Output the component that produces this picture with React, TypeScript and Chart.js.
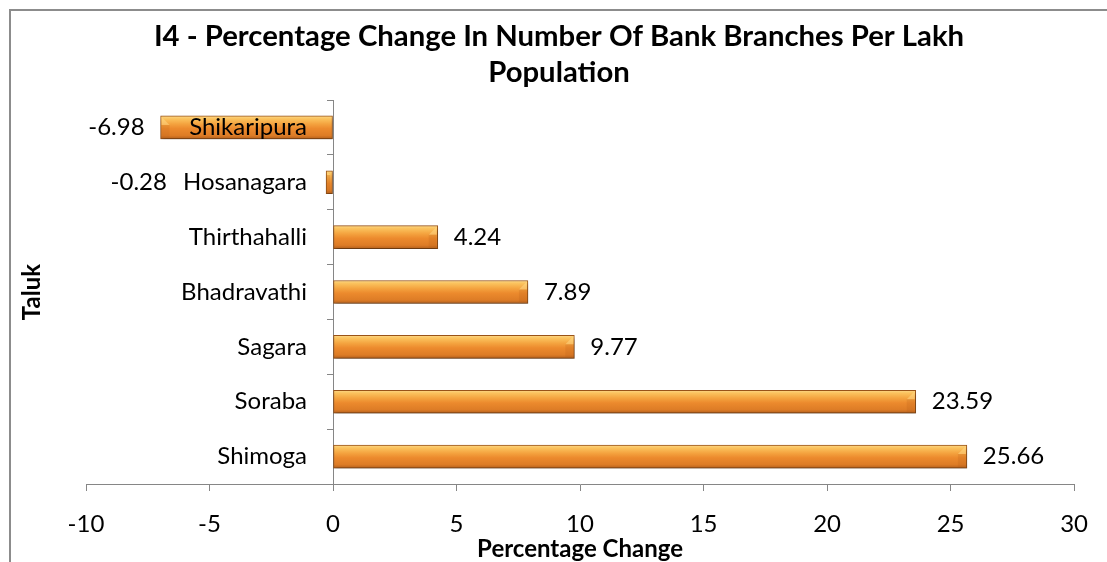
import React, { useEffect, useRef } from "react";
import { Chart, registerables } from "chart.js";

Chart.register(...registerables);

const titleLines = ["I4 - Percentage Change In Number Of Bank Branches Per Lakh", "Population"];
const taluks = ["Shikaripura", "Hosanagara", "Thirthahalli", "Bhadravathi", "Sagara", "Soraba", "Shimoga"];
const changes = [-6.98, -0.28, 4.24, 7.89, 9.77, 23.59, 25.66];
const xMin = -10;
const xMax = 30;
const xStep = 5;
const xTitle = "Percentage Change";
const yTitle = "Taluk";

const FONT = "Lato, 'Open Sans', sans-serif";
const TXT = 24;
const LABEL_GAP = 26;
const TICK_LEN = 6;
const BAR_H = 23;

export default function App() {
  const ref = useRef<HTMLCanvasElement | null>(null);

  useEffect(() => {
    const canvas = ref.current;
    if (!canvas) return;

    const barFill = (c: any) => {
      const chart = c.chart;
      if (!chart.chartArea || !chart.scales.y) return "#ee8d2e";
      const yc = chart.scales.y.getPixelForValue(c.dataIndex);
      const g = chart.ctx.createLinearGradient(0, yc - BAR_H / 2, 0, yc + BAR_H / 2);
      g.addColorStop(0, "#fcd88a");
      g.addColorStop(0.12, "#fbc35e");
      g.addColorStop(0.35, "#f4a33f");
      g.addColorStop(0.55, "#ec8a2d");
      g.addColorStop(0.85, "#dd7c26");
      g.addColorStop(1, "#b4601d");
      return g;
    };

    const shadowPlugin = {
      id: "barShadow",
      beforeDatasetsDraw(chart: any) {
        const ctx = chart.ctx;
        ctx.save();
        ctx.shadowColor = "rgba(0,0,0,0.35)";
        ctx.shadowBlur = 4;
        ctx.shadowOffsetX = 1;
        ctx.shadowOffsetY = 3;
      },
      afterDatasetsDraw(chart: any) {
        chart.ctx.restore();
      },
    };

    const decoPlugin = {
      id: "decoAndLabels",
      afterDatasetsDraw(chart: any) {
        const ctx = chart.ctx;
        const meta = chart.getDatasetMeta(0);
        const xs = chart.scales.x;
        const ys = chart.scales.y;
        const zero = xs.getPixelForValue(0);
        ctx.save();
        // end bevels
        meta.data.forEach((bar: any, i: number) => {
          const v = changes[i];
          const top = bar.y - bar.height / 2 + 1;
          const bot = bar.y + bar.height / 2 - 1;
          const b = Math.min(8, Math.abs(bar.x - bar.base) / 2);
          const endX = bar.x + (v >= 0 ? -1 : 1);
          const dir = v >= 0 ? -1 : 1;
          ctx.beginPath();
          ctx.moveTo(endX, top);
          ctx.lineTo(endX + dir * b, top + b);
          ctx.lineTo(endX, top + b);
          ctx.closePath();
          ctx.fillStyle = "rgba(255,220,140,0.5)";
          ctx.fill();
          ctx.beginPath();
          ctx.moveTo(endX + dir * b, top + b);
          ctx.lineTo(endX, top + b);
          ctx.lineTo(endX, bot);
          ctx.lineTo(endX + dir * b, bot);
          ctx.closePath();
          ctx.fillStyle = "rgba(175,90,20,0.18)";
          ctx.fill();
        });
        // category labels next to the zero axis
        ctx.font = `${TXT}px ${FONT}`;
        ctx.fillStyle = "#000";
        ctx.textBaseline = "middle";
        ctx.textAlign = "right";
        taluks.forEach((_, i) => {
          ctx.fillText(ys.getLabelForValue(i), zero - LABEL_GAP, ys.getPixelForValue(i));
        });
        // value labels
        meta.data.forEach((bar: any, i: number) => {
          const v = changes[i];
          const txt = v.toFixed(2);
          if (v >= 0) {
            ctx.textAlign = "left";
            ctx.fillText(txt, Math.max(bar.x, bar.base) + 16, bar.y);
          } else {
            const catW = ctx.measureText(taluks[i]).width;
            const catLeft = zero - LABEL_GAP - catW;
            const left = Math.min(bar.x, catLeft);
            ctx.textAlign = "right";
            ctx.fillText(txt, left - 16, bar.y);
          }
        });
        // chart title centred on the whole canvas
        ctx.font = `bold 29.3px ${FONT}`;
        ctx.textAlign = "center";
        titleLines.forEach((line, i) => {
          ctx.fillText(line, chart.width / 2, 26 + i * 36);
        });
        // y axis title
        const area = chart.chartArea;
        ctx.font = `bold ${TXT}px ${FONT}`;
        ctx.translate(21, (area.top + area.bottom) / 2);
        ctx.rotate(-Math.PI / 2);
        ctx.textAlign = "center";
        ctx.textBaseline = "middle";
        ctx.fillText(yTitle, 0, 0);
        ctx.restore();
      },
    };

    const chart = new Chart(canvas, {
      type: "bar",
      data: {
        labels: taluks,
        datasets: [
          {
            data: changes,
            backgroundColor: barFill,
            borderColor: "#9b5418",
            borderWidth: 1,
            borderSkipped: false,
            barThickness: BAR_H,
          },
        ],
      },
      options: {
        indexAxis: "y",
        animation: false,
        responsive: false,
        maintainAspectRatio: false,
        layout: { padding: { left: 75, right: 31, top: 89, bottom: 0 } },
        plugins: {
          legend: { display: false },
          tooltip: { enabled: false },
          title: { display: false },
        },
        scales: {
          x: {
            type: "linear",
            min: xMin,
            max: xMax,
            position: "bottom",
            afterFit: (s: any) => {
              s.height = 78;
            },
            ticks: {
              stepSize: xStep,
              color: "#000",
              padding: 19,
              font: { family: FONT, size: TXT },
            },
            grid: {
              drawOnChartArea: false,
              drawTicks: true,
              tickLength: 7,
              color: "#868686",
            },
            border: { display: true, color: "#868686", width: 1 },
            title: {
              display: true,
              text: xTitle,
              color: "#000",
              font: { family: FONT, size: TXT, weight: "bold", lineHeight: 1.1 },
              padding: { top: 0, bottom: 0 },
            },
          },
          y: {
            type: "category",
            position: { x: 0 } as any,
            ticks: { display: false },
            grid: {
              drawOnChartArea: false,
              drawTicks: true,
              tickLength: TICK_LEN,
              offset: true,
              color: "#868686",
            },
            border: { display: true, color: "#868686", width: 1 },
          },
        },
      } as any,
      plugins: [shadowPlugin, decoPlugin],
    });

    return () => chart.destroy();
  }, []);

  return (
    <div
      style={{
        position: "absolute",
        left: 9,
        top: 9,
        width: 1098,
        height: 553,
        borderTop: "2px solid #8c8c8c",
        borderLeft: "2px solid #8c8c8c",
        boxSizing: "border-box",
        background: "#fff",
      }}
    >
      <canvas ref={ref} width={1096} height={551} style={{ display: "block" }} />
    </div>
  );
}
